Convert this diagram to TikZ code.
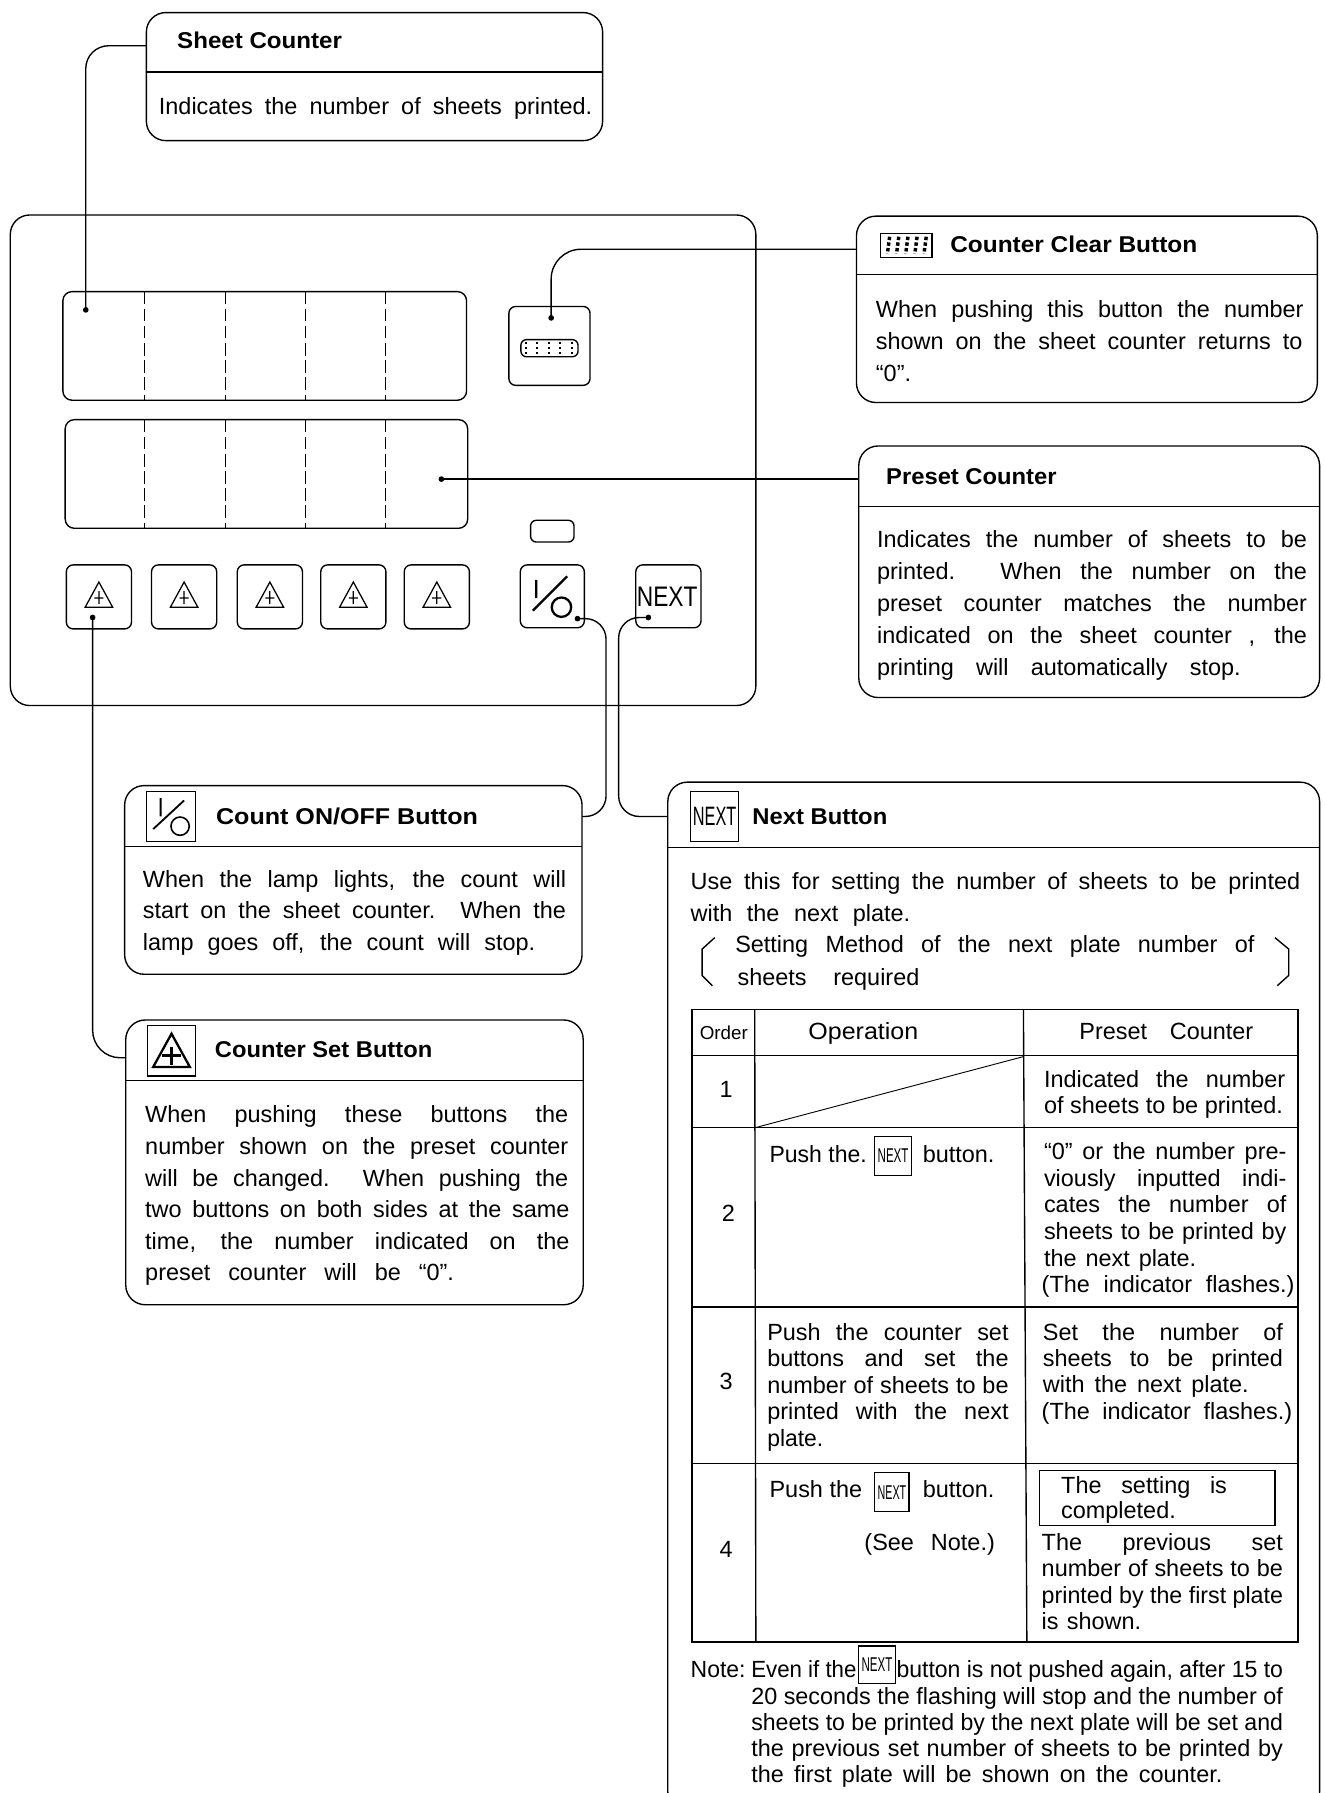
\documentclass[tikz,border=0pt]{standalone}
\usepackage{fontspec}
\usepackage{graphicx}
\setmainfont{Liberation Sans}
\hbadness=10000 \hfuzz=50pt
\newsavebox\fitbox
\newcommand\fl[2]{\hbox{\sbox\fitbox{#2}\ifdim\wd\fitbox>#1pt\relax\resizebox{#1pt}{\height}{\usebox\fitbox}\else\makebox[#1pt][s]{#2}\fi}}
\newcommand\tb[5]{\node[txt] (#1) at (#2,#3) {\vtop{\baselineskip=#4pt \lineskiplimit=-100pt \lineskip=0pt #5}};}
\newcommand\ttl[5]{\node[ttlstyle] (#1) at (#2,#3) {\resizebox{#4pt}{\height}{#5}};}
\newcommand\nexticon[7]{\node[iconbox,minimum width=#4pt,minimum height=#5pt] (#1) at (#2,#3) {\resizebox{#6pt}{#7pt}{NEXT}};}
\newcommand\setbtn[2]{\node[btn,minimum width=57pt,minimum height=56pt] (#1) at (#2,522) {};
  \draw[line width=1.1pt,shift={(#2,522)}] (0,-13) -- (12,9) -- (-12,9) -- cycle (0,-5) -- (0,6) (-4,1) -- (4,1);}
\tikzset{
  x=1pt,y=-1pt,
  panelbox/.style={draw,rounded corners=17pt,inner sep=0pt,outer sep=0pt,anchor=north west},
  dispbox/.style={draw,rounded corners=8pt,inner sep=0pt,outer sep=0pt,anchor=north west},
  btn/.style={draw,rounded corners=6pt,inner sep=0pt,outer sep=0pt},
  iconbox/.style={draw,inner sep=0pt,outer sep=0pt,line width=1.1pt},
  portdot/.style={circle,fill=black,draw=none,minimum size=5pt,inner sep=0pt,outer sep=0pt},
  txt/.style={anchor=base west,inner sep=0pt,outer sep=0pt,font=\fontsize{20.5}{24}\selectfont},
  ttlstyle/.style={anchor=base west,inner sep=0pt,outer sep=0pt,font=\fontsize{20}{24}\selectfont\bfseries},
  conn/.style={rounded corners=16pt},
  digit/.style={dash pattern=on 11pt off 4pt,line width=1pt},
}
\begin{document}
\begin{tikzpicture}[line width=1.2pt]
\useasboundingbox (0,0) rectangle (1158,1568);
\clip (0,0) rectangle (1158,1568);

% main panel
\node[panelbox,minimum width=652pt,minimum height=429pt] (panel) at (9,188) {};
\node[dispbox,minimum width=353pt,minimum height=95pt] (disp1) at (55,255) {};
\node[dispbox,minimum width=352pt,minimum height=95pt] (disp2) at (57,367) {};
\foreach \xx in {126,197,267,337}{
  \draw[digit] (\xx,255) -- (\xx,350);
  \draw[digit] (\xx,367) -- (\xx,462);
}
\node[btn,minimum width=71pt,minimum height=69pt] (clearbtn) at (480.5,302.5) {};
\node[draw,rounded corners=5pt,minimum width=50pt,minimum height=15pt,inner sep=0pt,outer sep=0pt] (clearglyph) at (480.5,304.5) {};
\foreach \xx in {460,470,480,490,500}{\draw[line width=1.8pt,dash pattern=on 2pt off 2.5pt] (\xx,299) -- (\xx,310);}
\node[draw,rounded corners=5pt,minimum width=38pt,minimum height=19pt,inner sep=0pt,outer sep=0pt] (lamp) at (483,464.5) {};
\setbtn{set1}{86.5}
\setbtn{set2}{161}
\setbtn{set3}{236}
\setbtn{set4}{309}
\setbtn{set5}{382}
\node[btn,minimum width=56pt,minimum height=55pt] (onoffbtn) at (483,521.5) {};
\draw[line width=2pt] (469,507) -- (469,523) (496,504) -- (466,534);
\draw[line width=2pt] (491,531) circle[radius=8.5pt];
\node[btn,minimum width=57pt,minimum height=55pt] (nextbtn) at (584.5,521.5) {};
\node[txt,anchor=center] (nexttxt) at (583.5,522) {\resizebox{53pt}{17pt}{NEXT}};

% ports
\node[portdot] (dsheet) at (75,271) {};
\node[portdot] (dclear) at (482,278) {};
\node[portdot] (dpreset) at (386,419) {};
\node[portdot] (dset) at (81,540) {};
\node[portdot] (donoff) at (505,541) {};
\node[portdot] (dnext) at (567,540) {};

% Sheet counter
\node[panelbox,minimum width=399pt,minimum height=112pt] (sheet) at (128,11) {};
\draw ([yshift=-52pt]sheet.north west) -- ([yshift=-52pt]sheet.north east);
\ttl{tsheet}{155}{42}{144}{Sheet Counter}
\tb{bsheet}{139}{100}{27}{\fl{379}{Indicates the number of sheets printed.}}

% Counter clear
\node[panelbox,minimum width=403pt,minimum height=163pt] (clear) at (749,189) {};
\draw ([yshift=-51pt]clear.north west) -- ([yshift=-51pt]clear.north east);
\node[draw,minimum width=45pt,minimum height=21pt,inner sep=0pt,outer sep=0pt] (clearicon) at (792.5,214.5) {};
\foreach \xx in {777,785,793,801,809}{\draw[line width=3pt,dash pattern=on 3pt off 2pt] (\xx+1,207) -- (\xx-1,222);}
\ttl{tclear}{831}{221}{216}{Counter Clear Button}
\tb{bclear}{766}{278}{28}{\fl{374}{When pushing this button the number}\fl{373}{shown on the sheet counter returns to}\fl{34}{“0”.}}

% Preset
\node[panelbox,minimum width=403pt,minimum height=220pt] (preset) at (751,390) {};
\draw ([yshift=-53pt]preset.north west) -- ([yshift=-53pt]preset.north east);
\ttl{tpreset}{775}{424}{149}{Preset Counter}
\tb{bpreset}{767}{479}{27.9}{\fl{376}{Indicates the number of sheets to be}\fl{376}{printed.  When the number on the}\fl{376}{preset counter matches the number}\fl{376}{indicated on the sheet counter , the}\fl{318}{printing  will automatically stop.}}

% On/Off
\node[panelbox,minimum width=400pt,minimum height=165pt] (onoff) at (109,687) {};
\draw ([yshift=-53pt]onoff.north west) -- ([yshift=-53pt]onoff.north east);
\node[iconbox,minimum width=43pt,minimum height=44pt] (onofficon) at (149.5,714) {};
\draw[line width=1.6pt] (140.5,698) -- (140.5,714) (161,700) -- (134,725);
\draw[line width=1.4pt] (157.5,722.5) circle[radius=8pt];
\ttl{tonoff}{189}{721}{229}{Count ON/OFF Button}
\tb{bonoff}{125}{776}{27.6}{\fl{370}{When the lamp lights, the count will}\fl{370}{start on the sheet counter.  When the}\fl{343}{lamp goes off, the count will stop.}}

% Counter set
\node[panelbox,minimum width=400pt,minimum height=249pt] (cset) at (110,892) {};
\draw ([yshift=-53pt]cset.north west) -- ([yshift=-53pt]cset.north east);
\node[iconbox,minimum width=42pt,minimum height=44pt] (cseticon) at (150,919) {};
\draw[line width=2pt] (150,904) -- (166,933) -- (134,933) -- cycle;
\draw[line width=2pt] (150,916) -- (150,931) (142,923) -- (158,923);
\ttl{tcset}{188}{925}{190}{Counter Set Button}
\tb{bcset}{127}{982}{27.6}{\fl{370}{When pushing these buttons the}\fl{370}{number shown on the preset counter}\fl{370}{will be changed.  When pushing the}\fl{371}{two buttons on both sides at the same}\fl{371}{time, the number indicated on the}\fl{270}{preset counter will be “0”.}}

% Next
\node[panelbox,minimum width=570pt,minimum height=900pt] (next) at (584,684) {};
\draw ([yshift=-57pt]next.north west) -- ([yshift=-57pt]next.north east);
\nexticon{nexticonA}{625}{714}{42}{44}{38}{16}
\ttl{tnext}{658}{721}{118}{Next Button}
\tb{bnext}{604}{778}{27.5}{\fl{533}{Use this for setting the number of sheets to be printed}\fl{192}{with the next plate.}}
\tb{bmethoda}{643}{833}{0}{\fl{454}{Setting Method of the next plate number of}}
\tb{bmethodb}{645}{862}{0}{\fl{159}{sheets  required}}
\draw (625,820) -- (614,830) -- (614,853) -- (623,862);
\draw (1115,820) -- (1127,830) -- (1127,853) -- (1117,862);

% table
\draw (605,883) rectangle (1135,1436);
\draw (605,923) -- (1135,923) (605,986) -- (1135,986) (605,1143) -- (1135,1143) (605,1280) -- (1135,1280);
\draw (660,883) -- (661,1436) (895,883) -- (898,1436);
\draw[line width=.8pt] (661,986) -- (895,924);
\node[txt,anchor=center,font=\fontsize{15}{15}\selectfont] (horder) at (633,903) {\resizebox{42pt}{!}{Order}};
\node[txt,anchor=base] (hop) at (755,909) {\resizebox{96pt}{\height}{Operation}};
\tb{hpreset}{944}{909}{0}{\fl{152}{Preset Counter}}
\node[txt,anchor=center] (r1) at (635,953) {1};
\node[txt,anchor=center] (r2) at (637,1061) {2};
\node[txt,anchor=center] (r3) at (635,1208) {3};
\node[txt,anchor=center] (r4) at (635,1355) {4};
\tb{c1}{913}{951}{23}{\fl{211}{Indicated the number}\fl{209}{of sheets to be printed.}}
\tb{a2a}{673}{1017}{0}{\fl{85}{Push the.}}
\nexticon{nexticonB}{781}{1011}{32}{34}{27}{12}
\tb{a2b}{807}{1017}{0}{\fl{65}{button.}}
\tb{c2}{913}{1014}{23.3}{\fl{212}{“0” or the number pre-}\fl{212}{viously inputted indi-}\fl{212}{cates the number of}\fl{212}{sheets to be printed by}\fl{133}{the next plate.}\hbox{\kern-2pt\fl{221}{(The indicator flashes.)}}}
\tb{a3}{671}{1172}{23.2}{\fl{211}{Push the counter set}\fl{211}{buttons and set the}\fl{211}{number of sheets to be}\fl{211}{printed with the next}\fl{49}{plate.}}
\tb{c3}{912}{1172}{23}{\fl{210}{Set the number of}\fl{210}{sheets to be printed}\fl{180}{with the next plate.}\hbox{\kern-1pt\fl{219}{(The indicator flashes.)}}}
\tb{a4a}{673}{1310}{0}{\fl{81}{Push the}}
\nexticon{nexticonC}{780}{1305}{30}{34}{25}{12}
\tb{a4b}{807}{1310}{0}{\fl{63}{button.}}
\tb{a4c}{756}{1356}{0}{\fl{114}{(See Note.)}}
\node[draw,minimum width=206pt,minimum height=48pt,inner sep=0pt,outer sep=0pt] (donebox) at (1012,1310) {};
\tb{c4a}{928}{1306}{22}{\fl{145}{The setting is}\fl{101}{completed.}}
\tb{c4b}{911}{1356}{23}{\fl{211}{The previous set}\fl{211}{number of sheets to be}\fl{211}{printed by the first plate}\fl{87}{is shown.}}

% note
\tb{n1}{604}{1467}{0}{\fl{48}{Note:}}
\tb{n2}{657}{1467}{0}{\fl{92}{Even if the}}
\nexticon{nexticonD}{767}{1456}{32}{33}{27}{12}
\tb{n3}{784}{1467}{0}{\fl{338}{button is not pushed again, after 15 to}}
\tb{n4}{657}{1491}{22.7}{\fl{465}{20 seconds the flashing will stop and the number of}\fl{465}{sheets to be printed by the next plate will be set and}\fl{465}{the previous set number of sheets to be printed by}\fl{412}{the first plate will be shown on the counter.}}

% connectors
\coordinate (ysheet) at (0,40);
\coordinate (yclear) at (0,218);
\coordinate (yonoff) at (530,714);
\coordinate (ynext) at (541,714);
\coordinate (yset) at (0,925);
\draw[conn,rounded corners=20pt] (dsheet.center) |- (sheet.west |- ysheet);
\draw[conn,rounded corners=26pt] (dclear.center) |- (clear.west |- yclear);
\draw (dpreset.center) -- (preset.west |- dpreset);
\draw[conn,rounded corners=24pt] (dset.center) |- (cset.west |- yset);
\draw[conn,rounded corners=18pt] (donoff.center) -| (yonoff) -- (onoff.east |- yonoff);
\draw[conn,rounded corners=18pt] (dnext.center) -| (ynext) -- (next.west |- ynext);
\end{tikzpicture}
\end{document}
